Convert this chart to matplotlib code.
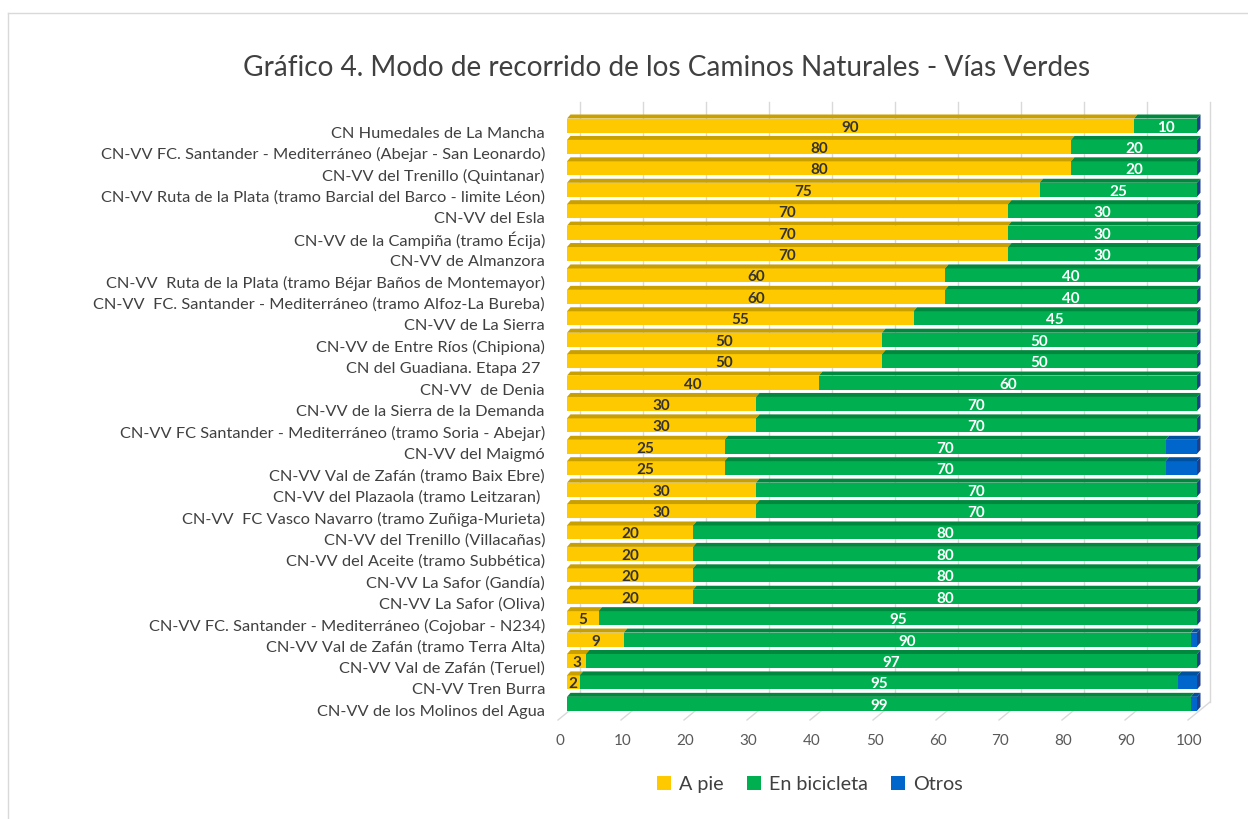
import matplotlib
matplotlib.use("Agg")
import matplotlib.pyplot as plt
from matplotlib.patches import Polygon, Patch
from matplotlib.lines import Line2D

plt.rcParams['font.family'] = ['Lato', 'DejaVu Sans']

categories = [
    "CN Humedales de La Mancha",
    "CN-VV FC. Santander - Mediterráneo (Abejar - San Leonardo)",
    "CN-VV del Trenillo (Quintanar)",
    "CN-VV Ruta de la Plata (tramo Barcial del Barco - limite Léon)",
    "CN-VV del Esla",
    "CN-VV de la Campiña (tramo Écija)",
    "CN-VV de Almanzora",
    "CN-VV  Ruta de la Plata (tramo Béjar Baños de Montemayor)",
    "CN-VV  FC. Santander - Mediterráneo (tramo Alfoz-La Bureba)",
    "CN-VV de La Sierra",
    "CN-VV de Entre Ríos (Chipiona)",
    "CN del Guadiana. Etapa 27 ",
    "CN-VV  de Denia",
    "CN-VV de la Sierra de la Demanda",
    "CN-VV FC Santander - Mediterráneo (tramo Soria - Abejar)",
    "CN-VV del Maigmó",
    "CN-VV Val de Zafán (tramo Baix Ebre)",
    "CN-VV del Plazaola (tramo Leitzaran) ",
    "CN-VV  FC Vasco Navarro (tramo Zuñiga-Murieta)",
    "CN-VV del Trenillo (Villacañas)",
    "CN-VV del Aceite (tramo Subbética)",
    "CN-VV La Safor (Gandía)",
    "CN-VV La Safor (Oliva)",
    "CN-VV FC. Santander - Mediterráneo (Cojobar - N234)",
    "CN-VV Val de Zafán (tramo Terra Alta)",
    "CN-VV Val de Zafán (Teruel)",
    "CN-VV Tren Burra",
    "CN-VV de los Molinos del Agua",
]
a_pie = [90, 80, 80, 75, 70, 70, 70, 60, 60, 55, 50, 50, 40, 30, 30, 25, 25, 30, 30, 20, 20, 20, 20, 5, 9, 3, 2, 0]
bicicleta = [10, 20, 20, 25, 30, 30, 30, 40, 40, 45, 50, 50, 60, 70, 70, 70, 70, 70, 70, 80, 80, 80, 80, 95, 90, 97, 95, 99]
otros = [0, 0, 0, 0, 0, 0, 0, 0, 0, 0, 0, 0, 0, 0, 0, 5, 5, 0, 0, 0, 0, 0, 0, 0, 1, 0, 3, 1]
series_names = ["A pie", "En bicicleta", "Otros"]
x_ticks = [0, 10, 20, 30, 40, 50, 60, 70, 80, 90, 100]
title = "Gráfico 4. Modo de recorrido de los Caminos Naturales - Vías Verdes"

front_colors = ["#FFC900", "#00B050", "#0066CC"]
top_colors = ["#C9A000", "#00893E", "#0050A0"]
side_color = "#1F3F8A"
label_colors = ["#333333", "white", None]

W, H = 1248, 820
fig = plt.figure(figsize=(W / 100, H / 100), dpi=100)

px_left, px_right = 567, 1197
px_top, px_bot = 100, 725
row0, pitch = 126.5, 21.42
ax = fig.add_axes([px_left / W, 1 - px_bot / H, (px_right - px_left) / W, (px_bot - px_top) / H])
ax.set_xlim(0, 100)
ax.set_ylim((px_bot - row0) / pitch, (px_top - row0) / pitch)
ax.axis("off")

ppu_x = (px_right - px_left) / 100.0
def ux(px):
    return px / ppu_x
def uy(px):
    return px / pitch

n = len(categories)
rows = list(range(n))
bar_h = uy(14)
dx, dy = ux(3.5), uy(4)
back_dx = ux(13)
front_dx = ux(-9)

wall_top = uy(103 - row0)
floor_back = uy(703 - row0)
floor_front = uy(721 - row0)
for v in x_ticks:
    ax.add_line(Line2D([v + back_dx, v + back_dx], [wall_top, floor_back], color="#D9D9D9", lw=1, zorder=0, clip_on=False))
    ax.add_line(Line2D([v + front_dx, v + back_dx], [floor_front, floor_back], color="#D9D9D9", lw=1, zorder=0, clip_on=False))
    ax.text(v + front_dx + ux(1.5), uy(741 - row0), str(v), ha="center", va="center", fontsize=11, color="#595959", clip_on=False)

series = [a_pie, bicicleta, otros]
for i in rows:
    left = 0
    top = i - bar_h / 2
    bot = i + bar_h / 2
    for s, vals in enumerate(series):
        v = vals[i]
        if v <= 0:
            continue
        ax.barh(i, v, left=left, height=bar_h, color=front_colors[s], linewidth=0, zorder=2)
        ax.add_patch(Polygon([(left, top), (left + v, top), (left + v + dx, top - dy), (left + dx, top - dy)],
                             closed=True, facecolor=top_colors[s], edgecolor="none", zorder=2, clip_on=False))
        if label_colors[s] is not None:
            ax.text(left + v / 2, i + uy(1), str(v), ha="center", va="center", fontsize=11, fontweight="bold",
                    color=label_colors[s], zorder=4)
        left += v
    ax.add_patch(Polygon([(left, top), (left + dx, top - dy), (left + dx, bot - dy), (left, bot)],
                         closed=True, facecolor=side_color, edgecolor="none", zorder=3, clip_on=False))
    ax.text(ux(545 - px_left), i + uy(7), categories[i], ha="right", va="center", fontsize=11.8,
            color="#404040", clip_on=False)

fig.text(667 / W, 1 - 68 / H, title, ha="center", va="center", fontsize=20.2, color="#404040")

handles = [Patch(facecolor=c, edgecolor="none") for c in front_colors]
fig.legend(handles, series_names, loc="center", bbox_to_anchor=(810 / W, 1 - 785 / H), ncol=3, frameon=False,
           fontsize=14.2, handlelength=0.7, handleheight=0.7, handletextpad=0.4, columnspacing=1.2,
           labelcolor="#404040")

fig.add_artist(Line2D([8 / W, 1], [1 - 14 / H, 1 - 14 / H], color="#D9D9D9", lw=1, transform=fig.transFigure))
fig.add_artist(Line2D([8 / W, 8 / W], [0, 1 - 14 / H], color="#D9D9D9", lw=1, transform=fig.transFigure))

fig.savefig("out.png", dpi=100, facecolor="white")
